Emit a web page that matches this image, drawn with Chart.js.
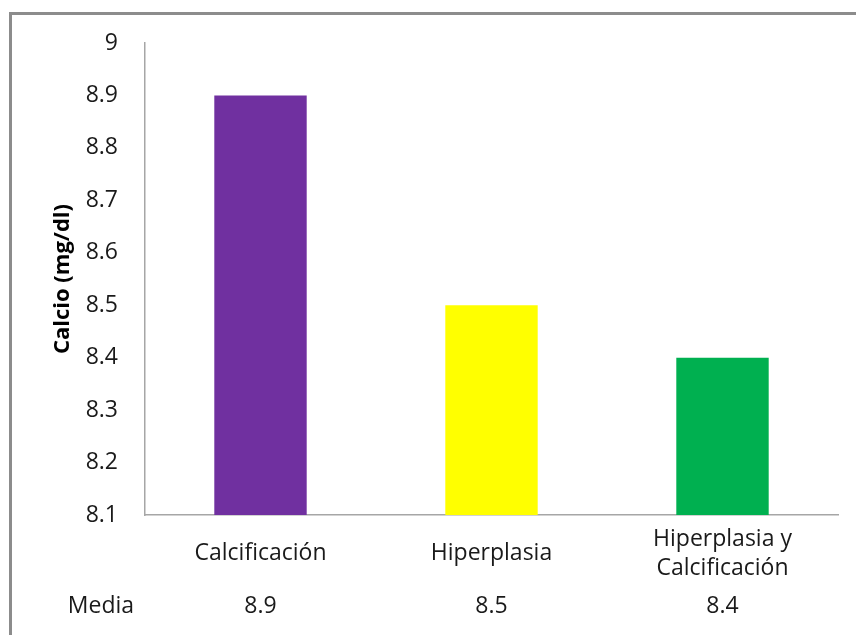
<!DOCTYPE html>
<html>
<head>
<meta charset="utf-8">
<script src="https://cdn.jsdelivr.net/npm/chart.js@4"></script>
<style>
  html, body { margin: 0; padding: 0; background: #fff; }
  #wrap { position: relative; width: 856px; height: 635px; overflow: hidden; }
  #frame { position: absolute; left: 9px; top: 12px; width: 900px; height: 700px;
           border-top: 3px solid #8c8c8c; border-left: 3px solid #8c8c8c; box-sizing: border-box; }
  canvas { position: absolute; left: 0; top: 0; }
</style>
</head>
<body>
<div id="wrap">
  <div id="frame"></div>
  <canvas id="myChart" width="856" height="635"></canvas>
</div>
<script>
const categorias = [["Calcificación"], ["Hiperplasia"], ["Hiperplasia y", "Calcificación"]];
const valores = [8.9, 8.5, 8.4];
const colores = ["#7030A0", "#FFFF00", "#00B050"];
const mediaEtiqueta = "Media";
const medias = ["8.9", "8.5", "8.4"];
const yMin = 8.1;
const yMax = 9;
const yPaso = 0.1;

const fuente = "'Open Sans', sans-serif";
const colorTexto = "#1a1a1a";

// dibuja la fila de "Media" debajo de las categorias
const filaMedia = {
  id: "filaMedia",
  afterDraw(chart) {
    const ctx = chart.ctx;
    const x = chart.scales.x;
    ctx.save();
    ctx.font = "23px " + fuente;
    ctx.fillStyle = colorTexto;
    ctx.textAlign = "center";
    ctx.textBaseline = "middle";
    ctx.fillText(mediaEtiqueta, 101, 606);
    medias.forEach((m, i) => {
      ctx.fillText(m, x.getPixelForValue(i), 606);
    });
    ctx.restore();
  }
};

const ctx = document.getElementById("myChart");
new Chart(ctx, {
  type: "bar",
  data: {
    labels: categorias,
    datasets: [
      {
        data: valores,
        backgroundColor: colores,
        borderWidth: 0,
        barPercentage: 0.4,
        categoryPercentage: 1,
      },
    ],
  },
  options: {
    responsive: false,
    animation: false,
    layout: { padding: { left: 0, top: 43, right: 18, bottom: 0 } },
    plugins: { legend: { display: false }, tooltip: { enabled: false } },
    scales: {
      x: {
        grid: { display: false, drawTicks: false },
        border: { display: true, color: "#a6a6a6", width: 1.5 },
        ticks: {
          color: colorTexto,
          font: { family: fuente, size: 23, lineHeight: 1.3 },
          padding: 24,
          crossAlign: "center",
          maxRotation: 0,
          autoSkip: false,
        },
        afterFit(scale) { scale.height = 120; },
      },
      y: {
        min: yMin,
        max: yMax,
        grid: { display: false, drawTicks: false },
        border: { display: true, color: "#a6a6a6", width: 1.5 },
        ticks: {
          stepSize: yPaso,
          color: colorTexto,
          font: { family: fuente, size: 23 },
          padding: 27,
          callback: (v) => String(Number(v.toFixed(1))),
        },
        title: {
          display: true,
          text: "Calcio (mg/dl)",
          color: "#000",
          font: { family: fuente, size: 22, weight: "bold" },
          padding: { top: 50, bottom: 0 },
        },
        afterFit(scale) { scale.width = 145; },
      },
    },
  },
  plugins: [filaMedia],
});
</script>
</body>
</html>
